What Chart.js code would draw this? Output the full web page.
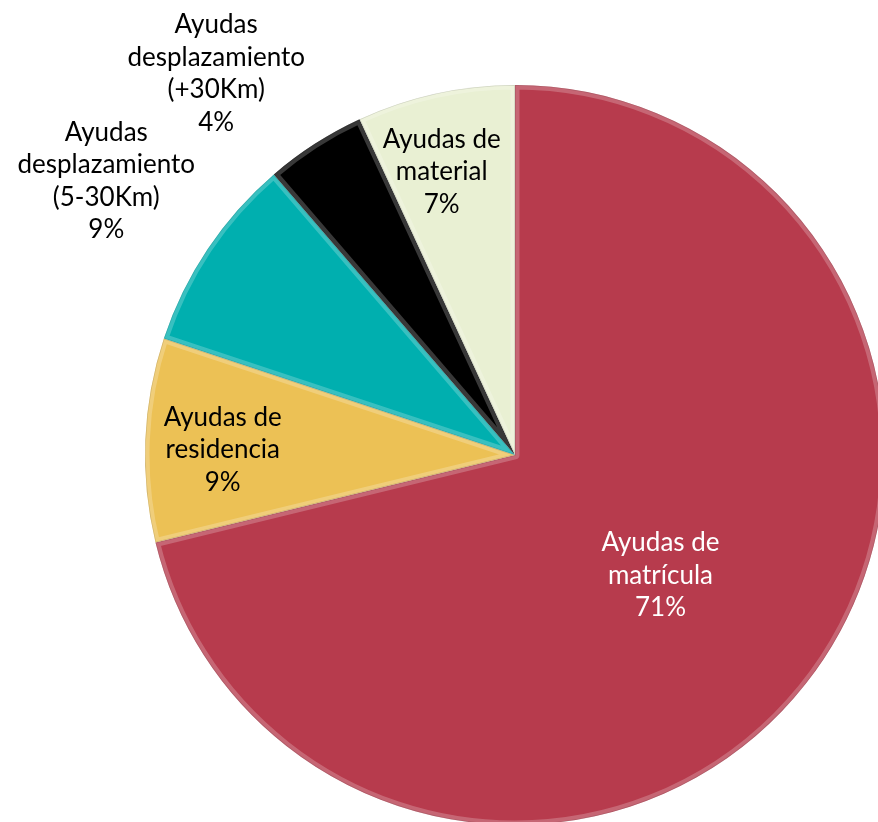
<!DOCTYPE html>
<html>
<head>
<meta charset="utf-8">
<script src="https://cdn.jsdelivr.net/npm/chart.js@4.4.1/dist/chart.umd.min.js"></script>
<style>
  html, body { margin: 0; padding: 0; background: #fff; overflow: hidden; }
  #wrap { position: absolute; left: 0; top: 0; }
</style>
</head>
<body>
<div id="wrap"><canvas id="ayudasPie" width="1030" height="910"></canvas></div>
<script>
// categories (one array of lines per slice) and shares
const categories = [
  ["Ayudas de", "matrícula"],
  ["Ayudas de", "residencia"],
  ["Ayudas", "desplazamiento", "(5-30Km)"],
  ["Ayudas", "desplazamiento", "(+30Km)"],
  ["Ayudas de", "material"]
];
const shares = [71.2, 8.9, 8.6, 4.4, 6.9];
const sliceColors = ["#B73B4D", "#ECC155", "#00AFAF", "#000000", "#E9F0D3"];
const labelColors = ["#FFFFFF", "#000000", "#000000", "#000000", "#000000"];

// where each label sits: fraction of radius, and a small turn (degrees) off the mid angle
const labelDistance = [0.51, 0.79, 1.33, 1.31, 0.79];
const labelTurn = [1.4, -1.3, 0, -5.3, -2.1];

const bevelPlugin = {
  id: "bevel",
  afterDatasetsDraw(chart) {
    const ctx = chart.ctx;
    chart.getDatasetMeta(0).data.forEach(function(arc) {
      const p = arc.getProps(["x", "y", "startAngle", "endAngle", "outerRadius"], true);
      ctx.save();
      ctx.beginPath();
      ctx.moveTo(p.x, p.y);
      ctx.arc(p.x, p.y, p.outerRadius, p.startAngle, p.endAngle);
      ctx.closePath();
      ctx.clip();
      ctx.lineJoin = "round";
      ctx.strokeStyle = "rgba(255,255,255,0.22)";
      ctx.lineWidth = 9;
      ctx.stroke();
      ctx.strokeStyle = "rgba(0,0,0,0.12)";
      ctx.lineWidth = 1.5;
      ctx.stroke();
      ctx.restore();
    });
  }
};

const labelPlugin = {
  id: "sliceLabels",
  afterDraw(chart) {
    const ctx = chart.ctx;
    const total = shares.reduce((a, b) => a + b, 0);
    ctx.save();
    ctx.font = "26px Lato";
    ctx.textAlign = "center";
    ctx.textBaseline = "middle";
    chart.getDatasetMeta(0).data.forEach(function(arc, i) {
      const p = arc.getProps(["x", "y", "startAngle", "endAngle", "outerRadius"], true);
      const mid = (p.startAngle + p.endAngle) / 2 + labelTurn[i] * Math.PI / 180;
      const r = p.outerRadius * labelDistance[i];
      const cx = p.x + Math.cos(mid) * r;
      const cy = p.y + Math.sin(mid) * r;
      const lines = categories[i].concat([Math.round(shares[i] / total * 100) + "%"]);
      const lh = 32.5;
      ctx.fillStyle = labelColors[i];
      lines.forEach(function(t, k) {
        ctx.fillText(t, cx, cy + (k - (lines.length - 1) / 2) * lh);
      });
    });
    ctx.restore();
  }
};

new Chart(document.getElementById("ayudasPie"), {
  type: "pie",
  data: {
    labels: categories,
    datasets: [{
      data: shares,
      backgroundColor: sliceColors,
      borderWidth: 0
    }]
  },
  options: {
    responsive: false,
    animation: false,
    layout: { padding: { left: 145, right: 145, top: 85, bottom: 85 } },
    plugins: {
      legend: { display: false },
      tooltip: { enabled: false }
    }
  },
  plugins: [bevelPlugin, labelPlugin]
});
</script>
</body>
</html>
